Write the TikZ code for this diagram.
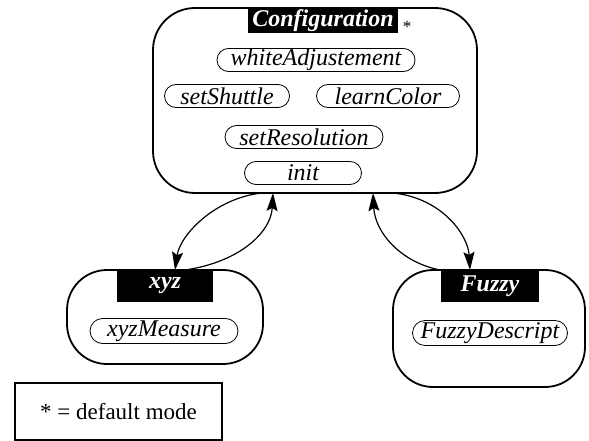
\documentclass[tikz,border=0pt]{standalone}
\usepackage{fontspec}
\setmainfont{Liberation Serif}
\newfontfamily\tnr{Liberation Serif}
\usetikzlibrary{shapes.misc,arrows.meta}
\begin{document}
\begin{tikzpicture}[x=1pt,y=-1pt,
  bigbox/.style={draw, line width=1.8pt, rounded corners=42pt, inner sep=0pt},
  title/.style={fill=black, text=white, inner sep=0pt, font=\tnr\fontsize{24}{28}\selectfont\bfseries\itshape},
  pill/.style={draw, line width=0.8pt, rounded rectangle, inner sep=0pt, minimum height=23pt, font=\tnr\fontsize{24}{28}\selectfont\itshape},
  conn/.style={line width=1.2pt, -{Stealth[length=18pt,width=11pt,inset=3pt]}}]
\useasboundingbox (0,0) rectangle (589,441);
% boxes
\node[bigbox, minimum width=324pt, minimum height=185pt] (cfg) at (315,100.5) {};
\node[bigbox, minimum width=196pt, minimum height=94pt, rounded corners=40pt] (xyzb) at (165,317) {};
\node[bigbox, minimum width=192pt, minimum height=117pt, rounded corners=40pt] (fzb) at (489,328.5) {};
% titles
\node[title, minimum width=150pt, minimum height=25pt] (cfgt) at (323,20.5) {Configuration};
\node[font=\tnr\fontsize{17}{20}\selectfont] (star) at (407,27) {*};
\node[title, minimum width=96pt, minimum height=32pt] (xyzt) at (165,286) {xyz};
\node[title, minimum width=98pt, minimum height=32pt] (fzt) at (490,286) {Fuzzy};
% methods
\node[pill, minimum width=198pt] (wa) at (316,60) {whiteAdjustement};
\node[pill, minimum width=125pt] (ss) at (227,96) {setShuttle};
\node[pill, minimum width=143pt] (lc) at (388,96) {learnColor};
\node[pill, minimum width=158pt] (sr) at (304,137) {setResolution};
\node[pill, minimum width=117pt] (in) at (303,173) {init};
\node[pill, minimum width=148pt, minimum height=25pt] (xm) at (164,331) {xyzMeasure};
\node[pill, minimum width=155pt, minimum height=25pt] (fd) at (490,333) {FuzzyDescript};
% legend
\node[draw, line width=1.5pt, minimum width=207pt, minimum height=57pt, inner sep=0pt, font=\tnr\fontsize{23}{27}\selectfont] (leg) at (118.5,411.5) {* = default mode};
% connector endpoints
\coordinate (c1) at (262,193);
\coordinate (x1) at (175,270);
\coordinate (x2) at (185,270);
\coordinate (c2) at (273,193);
\coordinate (f1) at (440,270);
\coordinate (c3) at (373,193);
\coordinate (c4) at (393,193);
\coordinate (f2) at (470,270);
\draw[conn] (c1) .. controls (215,198) and (180,235) .. (x1);
\draw[conn] (x2) .. controls (240,262) and (271,232) .. (c2);
\draw[conn] (f1) .. controls (400,262) and (375,232) .. (c3);
\draw[conn] (c4) .. controls (442,198) and (468,235) .. (f2);
\end{tikzpicture}
\end{document}
